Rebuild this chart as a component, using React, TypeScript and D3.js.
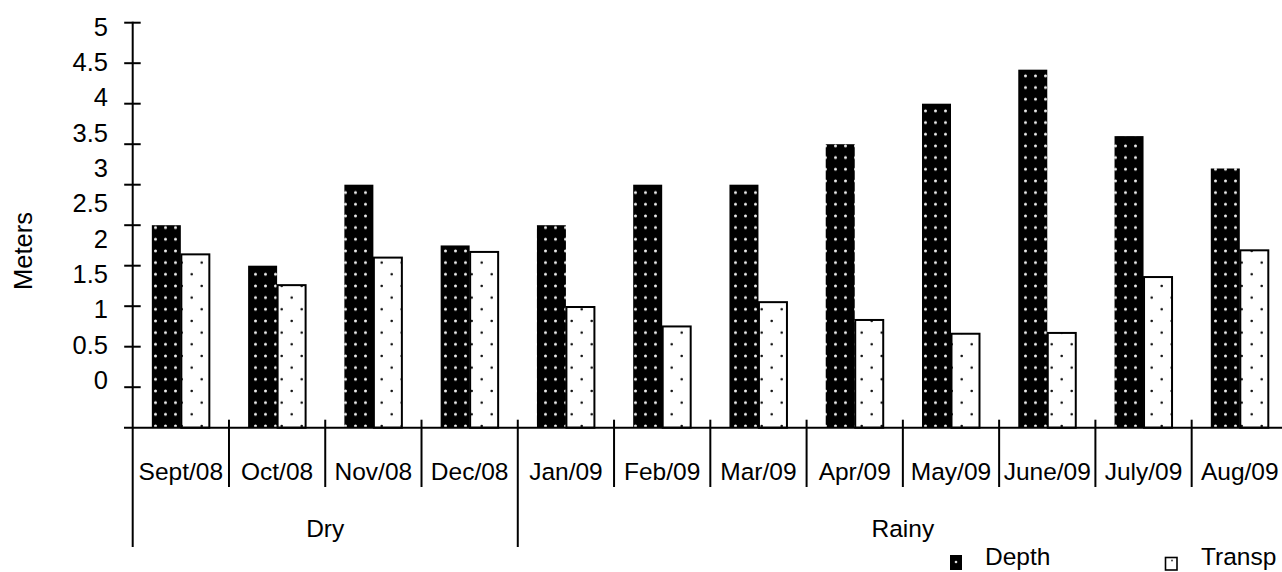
import React from "react";
import * as d3 from "d3";

// Monthly readings, Sept 2008 – Aug 2009
const categories = [
  "Sept/08", "Oct/08", "Nov/08", "Dec/08", "Jan/09", "Feb/09",
  "Mar/09", "Apr/09", "May/09", "June/09", "July/09", "Aug/09",
];
const depth = [2.5, 2.0, 3.0, 2.25, 2.5, 3.0, 3.0, 3.5, 4.0, 4.42, 3.6, 3.2];
const transparency = [2.14, 1.76, 2.1, 2.17, 1.49, 1.25, 1.55, 1.33, 1.16, 1.17, 1.86, 2.19];
const seriesNames = ["Depth", "Transp"];
const seasonNames = ["Dry", "Rainy"];
const seasonMonths = [4, 8];
const yTicks = [0, 0.5, 1, 1.5, 2, 2.5, 3, 3.5, 4, 4.5, 5];
const yTickLabels = ["0", "0.5", "1", "1.5", "2", "2.5", "3", "3.5", "4", "4.5", "5"];

const W = 1282;
const H = 572;
const FONT = "'Liberation Sans', Arial, Helvetica, sans-serif";
const FS = 24.5;

export default function App() {
  const axisX = 132.7;
  const baseY = 427.7;
  const step = 96.27;

  const x = d3
    .scaleBand<string>()
    .domain(categories)
    .range([axisX, axisX + step * categories.length])
    .paddingInner(0)
    .paddingOuter(0);

  const xs = d3
    .scaleBand<string>()
    .domain(seriesNames)
    .range([0, x.bandwidth()])
    .paddingInner(0)
    .paddingOuter(0.66);

  const y = d3.scaleLinear().domain([0, 5]).range([baseY, 22.7]);
  // tick labels sit on their own, tighter spacing beside the tick marks
  const labelY = d3.scaleLinear().domain([0, 5]).range([380, 26.7]);

  const bw = xs.bandwidth();

  // season spans along the category axis
  const seasonStarts = seasonMonths.map((_, i) =>
    d3.sum(seasonMonths.slice(0, i))
  );

  const catEdges = categories.map((c) => x(c) as number);

  return (
    <div style={{ position: "absolute", left: 0, top: 0 }}>
      <svg width={W} height={H} style={{ display: "block", background: "#fff" }}>
        <defs>
          <pattern id="depthFill" patternUnits="userSpaceOnUse" width={10} height={11.67}>
            <rect width={10} height={11.67} fill="#000" />
            <circle cx={5.5} cy={5.8} r={1.5} fill="#eeeeee" />
          </pattern>
          <pattern id="transpFill" patternUnits="userSpaceOnUse" width={20} height={23.34}>
            <rect width={20} height={23.34} fill="#fff" />
            <circle cx={1.7} cy={5.8} r={1.3} fill="#111" />
            <circle cx={11.7} cy={17.5} r={1.3} fill="#111" />
          </pattern>
        </defs>

        {/* bars */}
        {categories.map((c, i) => {
          const x0 = x(c) as number;
          const dx = x0 + (xs("Depth") as number);
          const tx = x0 + (xs("Transp") as number);
          return (
            <g key={c}>
              <rect
                x={dx}
                y={y(depth[i])}
                width={bw}
                height={baseY - y(depth[i])}
                fill="url(#depthFill)"
              />
              <rect
                x={tx + 0.5}
                y={y(transparency[i])}
                width={bw - 1}
                height={baseY - y(transparency[i])}
                fill="url(#transpFill)"
                stroke="#000"
                strokeWidth={2}
              />
            </g>
          );
        })}

        {/* y axis */}
        <line x1={axisX} x2={axisX} y1={21.7} y2={547} stroke="#000" strokeWidth={2} />
        {yTicks.slice(1).map((t) => (
          <line
            key={"yt" + t}
            x1={axisX - 8.5}
            x2={axisX + 8}
            y1={y(t)}
            y2={y(t)}
            stroke="#000"
            strokeWidth={2}
          />
        ))}
        {yTicks.map((t, i) => (
          <text
            key={"yl" + t}
            x={108}
            y={labelY(t)}
            textAnchor="end"
            dominantBaseline="central"
            fontFamily={FONT}
            fontSize={25.5}
            fill="#000"
          >
            {yTickLabels[i]}
          </text>
        ))}
        <text
          transform={`translate(22.5,251) rotate(-90)`}
          textAnchor="middle"
          dominantBaseline="central"
          fontFamily={FONT}
          fontSize={25.5}
          fill="#000"
        >
          Meters
        </text>

        {/* category axis */}
        <line x1={124} x2={W} y1={baseY} y2={baseY} stroke="#000" strokeWidth={2} />
        {catEdges.slice(1).map((ex, i) => {
          const isSeasonEdge = seasonStarts.includes(i + 1);
          return (
            <line
              key={"ce" + i}
              x1={ex}
              x2={ex}
              y1={baseY - 8}
              y2={isSeasonEdge ? 547 : 487}
              stroke="#000"
              strokeWidth={2}
            />
          );
        })}
        {categories.map((c) => (
          <text
            key={"cl" + c}
            x={(x(c) as number) + x.bandwidth() / 2}
            y={479.5}
            textAnchor="middle"
            fontFamily={FONT}
            fontSize={FS}
            fill="#000"
          >
            {c}
          </text>
        ))}
        {seasonNames.map((s, i) => {
          const a = x(categories[seasonStarts[i]]) as number;
          const b = a + seasonMonths[i] * step;
          return (
            <text
              key={"sn" + s}
              x={(a + b) / 2}
              y={537}
              textAnchor="middle"
              fontFamily={FONT}
              fontSize={FS}
              fill="#000"
            >
              {s}
            </text>
          );
        })}

        {/* legend */}
        <g>
          <rect x={950} y={555} width={12} height={15} fill="#000" />
          <circle cx={956} cy={562} r={1.3} fill="#ddd" />
          <text x={985} y={565} fontFamily={FONT} fontSize={FS} fill="#000">
            Depth
          </text>
          <rect x={1165.5} y={557.5} width={11.5} height={12.5} fill="#fff" stroke="#000" strokeWidth={1.6} />
          <circle cx={1172} cy={560.5} r={0.9} fill="#333" />
          <text x={1201} y={565} fontFamily={FONT} fontSize={FS} fill="#000">
            Transp
          </text>
        </g>
      </svg>
    </div>
  );
}
